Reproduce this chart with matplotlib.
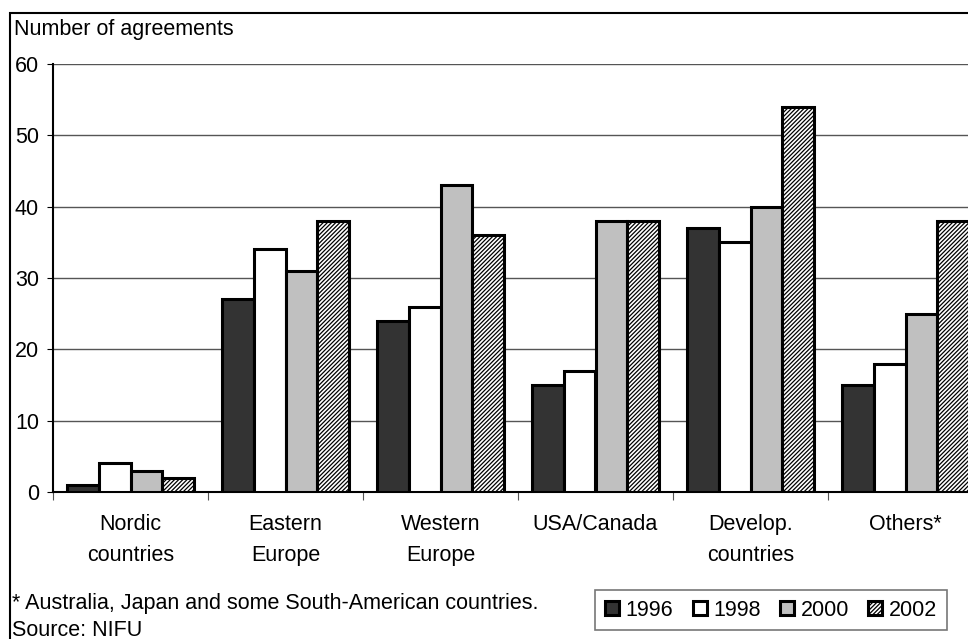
import matplotlib.pyplot as plt
from matplotlib.patches import Rectangle
import numpy as np

plt.rcParams['font.family'] = ['Liberation Sans', 'DejaVu Sans']
plt.rcParams['hatch.linewidth'] = 0.9
plt.rcParams['hatch.color'] = '#222222'

regions = ["Nordic\ncountries", "Eastern\nEurope", "Western\nEurope", "USA/Canada",
           "Develop.\ncountries", "Others*"]
years = ["1996", "1998", "2000", "2002"]
agreements_1996 = [1, 27, 24, 15, 37, 15]
agreements_1998 = [4, 34, 26, 17, 35, 18]
agreements_2000 = [3, 31, 43, 38, 40, 25]
agreements_2002 = [2, 38, 36, 38, 54, 38]

series = [agreements_1996, agreements_1998, agreements_2000, agreements_2002]
colors = ["#333333", "white", "#c0c0c0", "white"]
hatches = [None, None, None, "////////"]
fs = 15.5

fig = plt.figure(figsize=(9.68, 6.39), dpi=100)
ax = fig.add_axes([53 / 968, 1 - 492 / 639, 930 / 968, 428 / 639])

x = np.arange(len(regions))
width = 0.205
for i, vals in enumerate(series):
    ax.bar(x + (i - 1.5) * width, vals, width, color=colors[i], edgecolor="black",
           linewidth=2.2, hatch=hatches[i], label=years[i], zorder=3)

ax.set_xlim(-0.5, len(regions) - 0.5)
ax.set_ylim(0, 60)
ax.set_yticks(range(0, 61, 10))
ax.yaxis.grid(True, color="#555555", linewidth=1.0, zorder=0)
ax.set_axisbelow(True)
for s in ["top", "right"]:
    ax.spines[s].set_visible(False)
ax.spines["left"].set_linewidth(1.5)
ax.spines["bottom"].set_linewidth(1.5)

# ticks between groups, labels in the middle
ax.set_xticks(np.arange(-0.5, len(regions), 1.0))
ax.set_xticklabels([])
ax.set_xticks(x, minor=True)
ax.set_xticklabels(regions, minor=True, fontsize=fs, linespacing=1.6)
ax.tick_params(axis="x", which="minor", length=0, pad=16)
ax.tick_params(axis="x", which="major", length=6, color="#555555")
ax.tick_params(axis="y", labelsize=fs, length=4, pad=6)

fig.text(14 / 968, 1 - 30 / 639, "Number of agreements", fontsize=fs, va="center")
fig.text(12 / 968, 1 - 604 / 639, "* Australia, Japan and some South-American countries.",
         fontsize=fs, va="center")
fig.text(12 / 968, 1 - 630 / 639, "Source: NIFU", fontsize=fs, va="center")

fig.patches.append(Rectangle((10 / 968, -0.1), 1.2, 1 - 13 / 639 + 0.1,
                             transform=fig.transFigure, fill=False,
                             edgecolor="black", linewidth=1.5))

leg = fig.legend(loc="center", bbox_to_anchor=(771 / 968, 1 - 610 / 639), ncol=4,
                 fontsize=fs, frameon=True, fancybox=False, edgecolor="#555555",
                 handlelength=0.65, handleheight=0.65, handletextpad=0.3,
                 columnspacing=0.9, borderpad=0.45)
leg.get_frame().set_linewidth(1.2)

fig.savefig("out.png", dpi=100)
